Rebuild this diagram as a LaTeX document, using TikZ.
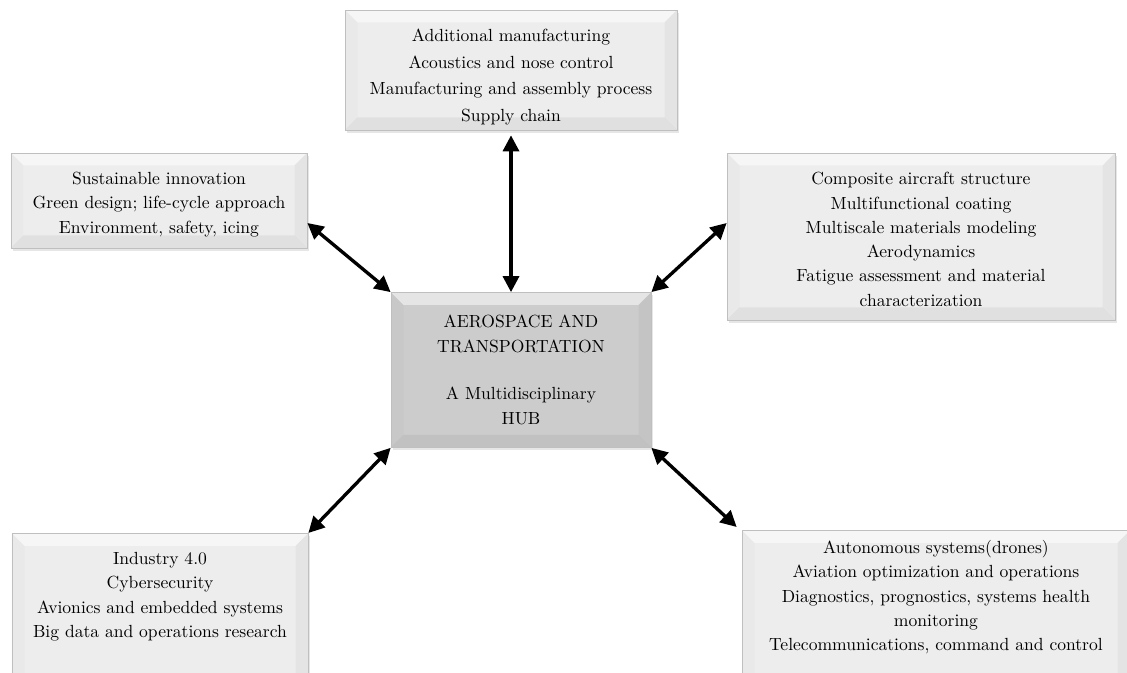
\documentclass[tikz,border=0pt]{standalone}
\usetikzlibrary{arrows.meta,shadows}

\begin{document}
\begin{tikzpicture}[
    area/.style={rectangle, draw=black!25, line width=0.4pt, fill=black!7, align=center,
      font=\fontsize{10}{13.8}\selectfont, inner sep=0pt,
      drop shadow={shadow xshift=0.04cm, shadow yshift=-0.06cm, opacity=0.2},
      path picture={
        \coordinate (sw) at (path picture bounding box.south west);
        \coordinate (se) at (path picture bounding box.south east);
        \coordinate (nw) at (path picture bounding box.north west);
        \coordinate (ne) at (path picture bounding box.north east);
        \fill[white, opacity=0.5] (nw) -- (ne) -- ([shift={(-0.25,-0.25)}]ne) -- ([shift={(0.25,-0.25)}]nw) -- cycle;
        \fill[black, opacity=0.015] (sw) -- (nw) -- ([shift={(0.25,-0.25)}]nw) -- ([shift={(0.25,0.25)}]sw) -- cycle;
        \fill[black, opacity=0.035] (se) -- (ne) -- ([shift={(-0.25,-0.25)}]ne) -- ([shift={(-0.25,0.25)}]se) -- cycle;
        \fill[black, opacity=0.05] (sw) -- (se) -- ([shift={(-0.25,0.25)}]se) -- ([shift={(0.25,0.25)}]sw) -- cycle;
      }},
    hub/.style={area, fill=black!20},
    link/.style={{Triangle[length=0.32cm, width=0.32cm]}-{Triangle[length=0.32cm, width=0.32cm]}, line width=1.9pt, black}
]
\useasboundingbox (0,0) rectangle (22.54,13.46);

% centre
\node[hub, minimum width=5.2cm, minimum height=3.1cm] (hub) at (10.42,6.06)
  {AEROSPACE AND\\TRANSPORTATION\\[13.4pt]A Multidisciplinary\\HUB};

% surrounding areas
\node[area, minimum width=6.64cm, minimum height=2.4cm, font=\fontsize{10}{15.2}\selectfont] (manuf) at (10.22,12.06)
  {\rule{0pt}{15pt}Additional manufacturing\\Acoustics and nose control\\Manufacturing and assembly process\\Supply chain};
\node[area, minimum width=5.92cm, minimum height=1.9cm] (sust) at (3.18,9.45)
  {\rule{0pt}{11.5pt}Sustainable innovation\\Green design; life-cycle approach\\Environment, safety, icing};
\node[area, minimum width=7.76cm, minimum height=3.34cm] (comp) at (18.42,8.73)
  {\rule{0pt}{10.3pt}Composite aircraft structure\\Multifunctional coating\\Multiscale materials modeling\\Aerodynamics\\Fatigue assessment and material\\characterization};
\node[area, minimum width=5.92cm, minimum height=3.4cm, anchor=north, inner ysep=0.38cm] (ind) at (3.2,2.8)
  {Industry 4.0\\Cybersecurity\\Avionics and embedded systems\\Big data and operations research\\[1.5cm]};
\node[area, minimum width=7.76cm, minimum height=3.4cm, anchor=north, inner ysep=0.2cm] (auto) at (18.72,2.86)
  {Autonomous systems(drones)\\Aviation optimization and operations\\Diagnostics, prognostics, systems health\\monitoring\\Telecommunications, command and control\\[1.2cm]};

% connections
\draw[link] ([yshift=-0.1cm]manuf.south) -- (manuf.south |- hub.north);
\draw[link] ([yshift=-0.45cm]sust.east) -- (hub.north west);
\draw[link] (hub.north east) -- ([yshift=0.27cm]comp.west);
\draw[link] (hub.south west) -- (ind.north east);
\draw[link] (hub.south east) -- ([shift={(-0.1,0.06)}]auto.north west);

\end{tikzpicture}
\end{document}
